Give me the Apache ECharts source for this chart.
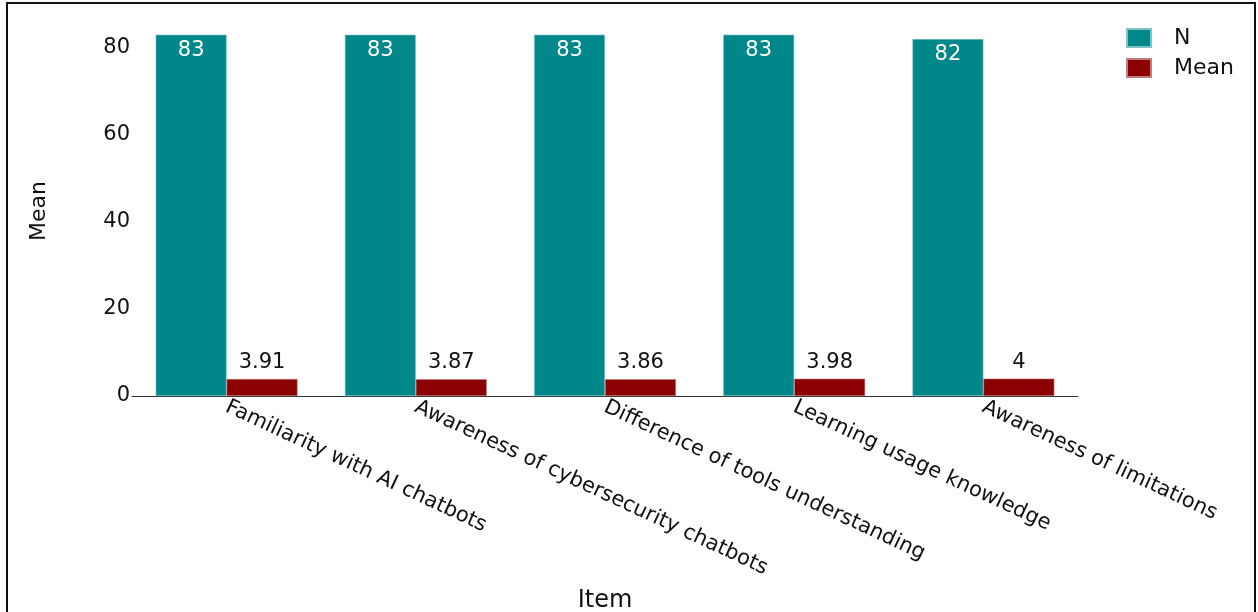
<!DOCTYPE html>
<html>
<head>
<meta charset="utf-8">
<script src="https://cdn.jsdelivr.net/npm/echarts@6/dist/echarts.min.js"></script>
<style>
  html, body { margin: 0; padding: 0; background: #fff; }
  #chart { width: 1258px; height: 612px; }
</style>
</head>
<body>
<div id="chart"></div>
<script>
// Survey items and their statistics
const items = [
  'Familiarity with AI chatbots',
  'Awareness of cybersecurity chatbots',
  'Difference of tools understanding',
  'Learning usage knowledge',
  'Awareness of limitations'
];
const nValues = [83, 83, 83, 83, 82];
const meanValues = [3.91, 3.87, 3.86, 3.98, 4];
const yTicks = [0, 20, 40, 60, 80];

const FONT = '"DejaVu Sans", sans-serif';
const TEAL = '#00878A';
const DARKRED = '#8B0000';

const chart = echarts.init(document.getElementById('chart'));
chart.setOption({
  animation: false,
  textStyle: { fontFamily: FONT },
  graphic: [{
    type: 'rect',
    shape: { x: 7, y: 3, width: 1248, height: 640 },
    style: { fill: 'none', stroke: '#111', lineWidth: 2 },
    silent: true
  }],
  legend: {
    data: ['N', 'Mean'],
    orient: 'vertical',
    left: 1121,
    top: 22,
    itemWidth: 24,
    itemHeight: 18,
    itemGap: 8,
    textStyle: { fontSize: 22, color: '#111', padding: [0, 0, 0, 18], fontFamily: FONT },
    icon: 'rect'
  },
  grid: { left: 132, right: 180, top: 26, bottom: 216, outerBoundsMode: 'none', containLabel: false },
  xAxis: {
    type: 'category',
    data: items,
    name: 'Item',
    nameLocation: 'middle',
    nameGap: 193,
    nameTextStyle: { fontSize: 24, color: '#111', fontFamily: FONT },
    axisLine: { lineStyle: { color: '#333', width: 1 } },
    axisTick: { show: false },
    axisLabel: { rotate: -25, fontSize: 21, color: '#111', margin: 10, interval: 0, fontFamily: FONT }
  },
  yAxis: {
    type: 'value',
    min: 0,
    max: 85,
    interval: 20,
    name: 'Mean',
    nameLocation: 'middle',
    nameRotate: 90,
    nameGap: 82,
    nameTextStyle: { fontSize: 22, color: '#111', fontFamily: FONT },
    axisLine: { show: false },
    axisTick: { show: false },
    splitLine: { show: false },
    axisLabel: {
      fontSize: 21, color: '#111', margin: 2, showMaxLabel: false, fontFamily: FONT,
      formatter: v => (yTicks.indexOf(v) >= 0 ? String(v) : '')
    }
  },
  series: [
    {
      name: 'N',
      type: 'bar',
      data: nValues,
      barCategoryGap: '25%',
      barGap: '0%',
      itemStyle: { color: TEAL, borderColor: '#7fc4c5', borderWidth: 0.6 },
      label: { show: true, position: 'insideTop', distance: 5, color: '#fff', fontSize: 21, fontFamily: FONT }
    },
    {
      name: 'Mean',
      type: 'bar',
      data: meanValues,
      itemStyle: { color: DARKRED, borderColor: '#c07f7f', borderWidth: 0.6 },
      label: { show: true, position: 'top', distance: 6, color: '#111', fontSize: 21, fontFamily: FONT }
    }
  ]
});
</script>
</body>
</html>
